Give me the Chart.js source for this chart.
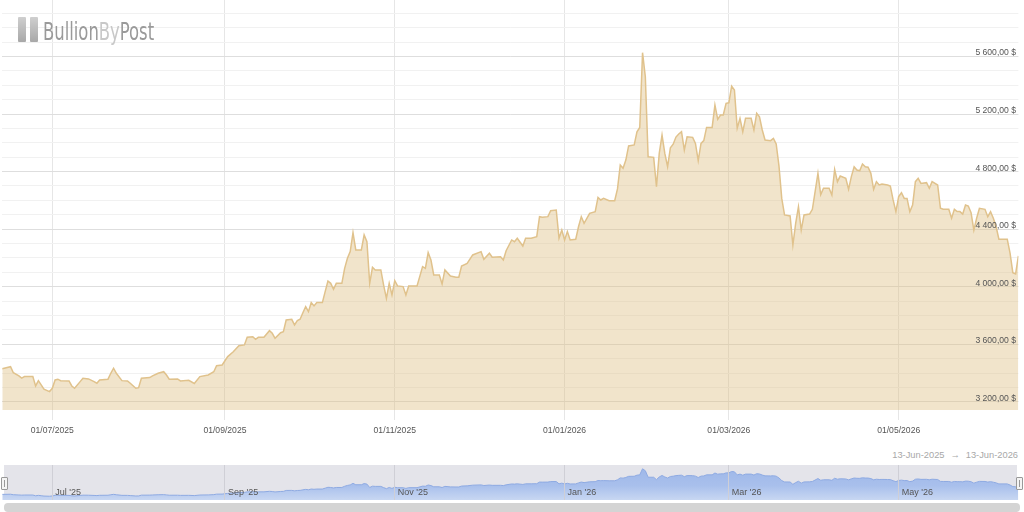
<!DOCTYPE html>
<html><head><meta charset="utf-8">
<script src="https://cdn.jsdelivr.net/npm/chart.js@4.4.1/dist/chart.umd.min.js"></script>
<style>
html,body{margin:0;padding:0;background:#fff;width:1024px;height:512px;overflow:hidden;font-family:"Liberation Sans",Arial,sans-serif;}
#main{position:absolute;left:0;top:0;}
#navbg{position:absolute;left:4px;top:465px;width:1013px;height:35px;background:#e4e4ea;}
#nav{position:absolute;left:0;top:465px;}
.bar{position:absolute;top:17px;width:8px;height:25px;background:linear-gradient(#cfcfcf,#a8a8a8);border-radius:1px;}
#logotext{position:absolute;left:43px;top:20px;font-family:"Liberation Sans Narrow","DejaVu Sans Condensed",sans-serif;font-size:24px;line-height:24px;white-space:nowrap;transform-origin:0 0;}
#range{position:absolute;right:6px;top:450px;font-size:9.3px;line-height:11px;color:#a8a8a8;white-space:nowrap;}
#range .arr{margin:0 6px 0 6px;}
.handle{position:absolute;top:477px;width:5px;height:11px;background:#f4f4f4;border:1px solid #999;border-radius:1px;}
.handle i{position:absolute;left:2px;top:2px;width:1px;height:7px;background:#999;}
#scroll{position:absolute;left:4px;top:503px;width:1016px;height:9px;background:#d4d4d4;border-radius:4px;}
</style>
</head><body>
<canvas id="main" width="1024" height="440"></canvas>
<div id="navbg"></div>
<canvas id="nav" width="1024" height="35"></canvas>
<div class="bar" style="left:18px"></div>
<div class="bar" style="left:30px"></div>
<div id="logotext"><span style="color:#9a9a9a">Bullion</span><span style="color:#c8c8c8">By</span><span style="color:#9a9a9a">Post</span></div>
<div id="range"><span id="r1"></span><span class="arr">→</span><span id="r2"></span></div>
<div class="handle" style="left:1px"><i></i></div>
<div class="handle" style="left:1016px"><i></i></div>
<div id="scroll"></div>
<script>
const dates = [
'2025-06-13','2025-06-16','2025-06-17','2025-06-19','2025-06-20','2025-06-21','2025-06-24','2025-06-25','2025-06-26','2025-06-27','2025-06-28','2025-06-30',
'2025-07-01','2025-07-02','2025-07-03','2025-07-04','2025-07-07','2025-07-08','2025-07-09','2025-07-11','2025-07-12','2025-07-14','2025-07-16','2025-07-17','2025-07-18','2025-07-21','2025-07-22','2025-07-23','2025-07-24','2025-07-26','2025-07-28','2025-07-29','2025-07-31',
'2025-08-01','2025-08-02','2025-08-05','2025-08-06','2025-08-08','2025-08-10','2025-08-11','2025-08-12','2025-08-15','2025-08-16','2025-08-19','2025-08-21','2025-08-23','2025-08-26','2025-08-28','2025-08-29','2025-08-31',
'2025-09-02','2025-09-04','2025-09-06','2025-09-08','2025-09-09','2025-09-11','2025-09-12','2025-09-13','2025-09-15','2025-09-17','2025-09-18','2025-09-19','2025-09-21','2025-09-22','2025-09-23','2025-09-25','2025-09-26','2025-09-27','2025-09-28','2025-09-29','2025-09-30',
'2025-10-01','2025-10-02','2025-10-03','2025-10-04','2025-10-06','2025-10-07','2025-10-08','2025-10-09','2025-10-10','2025-10-11','2025-10-13','2025-10-14','2025-10-15','2025-10-16','2025-10-17','2025-10-18','2025-10-20','2025-10-21','2025-10-22','2025-10-23','2025-10-24','2025-10-25','2025-10-27','2025-10-28','2025-10-29','2025-10-30','2025-10-31',
'2025-11-01','2025-11-02','2025-11-04','2025-11-05','2025-11-06','2025-11-09','2025-11-11','2025-11-12','2025-11-13','2025-11-14','2025-11-15','2025-11-17','2025-11-18','2025-11-19','2025-11-21','2025-11-23','2025-11-24','2025-11-25','2025-11-27','2025-11-29',
'2025-12-02','2025-12-03','2025-12-05','2025-12-06','2025-12-09','2025-12-10','2025-12-11','2025-12-13','2025-12-14','2025-12-15','2025-12-17','2025-12-18','2025-12-20','2025-12-22','2025-12-23','2025-12-24','2025-12-26','2025-12-27','2025-12-29','2025-12-30','2025-12-31',
'2026-01-01','2026-01-02','2026-01-03','2026-01-05','2026-01-06','2026-01-07','2026-01-08','2026-01-10','2026-01-12','2026-01-13','2026-01-14','2026-01-15','2026-01-17','2026-01-19','2026-01-20','2026-01-21','2026-01-22','2026-01-23','2026-01-24','2026-01-26','2026-01-27','2026-01-28','2026-01-29','2026-01-30','2026-01-31',
'2026-02-02','2026-02-03','2026-02-04','2026-02-05','2026-02-06','2026-02-07','2026-02-08','2026-02-09','2026-02-10','2026-02-11','2026-02-12','2026-02-13','2026-02-14','2026-02-16','2026-02-17','2026-02-18','2026-02-19','2026-02-20','2026-02-21','2026-02-23','2026-02-24','2026-02-25','2026-02-26','2026-02-27','2026-02-28',
'2026-03-01','2026-03-02','2026-03-03','2026-03-04','2026-03-05','2026-03-06','2026-03-07','2026-03-09','2026-03-10','2026-03-11','2026-03-12','2026-03-13','2026-03-14','2026-03-16','2026-03-17','2026-03-18','2026-03-19','2026-03-20','2026-03-21','2026-03-23','2026-03-24','2026-03-25','2026-03-26','2026-03-27','2026-03-28','2026-03-30','2026-03-31',
'2026-04-02','2026-04-03','2026-04-04','2026-04-06','2026-04-07','2026-04-08','2026-04-09','2026-04-10','2026-04-12','2026-04-13','2026-04-14','2026-04-15','2026-04-16','2026-04-17','2026-04-18','2026-04-19','2026-04-20','2026-04-21','2026-04-22','2026-04-23','2026-04-24','2026-04-25','2026-04-27','2026-04-28','2026-04-29','2026-04-30',
'2026-05-01','2026-05-02','2026-05-03','2026-05-04','2026-05-05','2026-05-06','2026-05-07','2026-05-08','2026-05-09','2026-05-11','2026-05-12','2026-05-13','2026-05-15','2026-05-16','2026-05-17','2026-05-19','2026-05-20','2026-05-21','2026-05-22','2026-05-23','2026-05-24','2026-05-25','2026-05-26','2026-05-27','2026-05-28','2026-05-29','2026-05-30',
'2026-06-01','2026-06-02','2026-06-03','2026-06-04','2026-06-05','2026-06-06','2026-06-09','2026-06-10','2026-06-11','2026-06-12','2026-06-13'
];
const prices = [
3430,3445,3403,3381,3365,3376,3376,3311,3348,3318,3288,3272,
3295,3353,3358,3348,3346,3311,3295,3341,3365,3360,3341,3330,3353,3358,3399,3434,3399,3348,3346,3330,3295,
3299,3365,3369,3381,3399,3410,3387,3358,3360,3346,3350,3328,3376,3387,3410,3452,3457,
3515,3549,3591,3596,3649,3653,3635,3649,3649,3695,3677,3642,3681,3688,3769,3774,3735,3765,3774,3820,3862,
3827,3890,3867,3890,3890,3966,4040,4024,3983,4024,4024,4128,4198,4244,4376,4256,4256,4360,4313,4024,4135,4117,4117,4012,3920,4024,3943,
4042,4006,4001,3943,4006,4006,4140,4128,4237,4186,4082,4082,4019,4117,4075,4066,4066,4144,4163,4221,
4244,4191,4233,4205,4209,4186,4250,4325,4313,4337,4283,4337,4337,4348,4487,4483,4487,4528,4533,4337,4394,
4325,4383,4325,4330,4417,4487,4441,4510,4522,4621,4603,4614,4598,4598,4680,4846,4823,4880,4978,4985,5077,5107,5626,5459,4903,
4899,4695,4926,5054,4926,4834,4965,4990,5040,5061,5077,4950,5042,5038,4996,4876,4996,5015,5107,5107,5262,5163,5193,5193,5274,
5278,5394,5367,5101,5170,5077,5170,5170,5089,5205,5181,5089,5019,5015,5031,4992,4840,4614,4499,4492,4290,4441,4556,4394,4499,4505,4538,
4788,4640,4684,4684,4637,4815,4730,4769,4753,4677,4765,4834,4811,4806,4853,4834,4830,4788,4677,4730,4707,4714,4707,4700,4603,4522,
4626,4653,4614,4614,4522,4568,4730,4753,4718,4723,4684,4730,4707,4545,4538,4538,4476,4538,4522,4522,4505,4568,4561,4515,4394,4476,4545,
4538,4487,4522,4476,4417,4330,4330,4233,4098,4089,4215
];
const xTickDates = ['2025-07-01','2025-09-01','2025-11-01','2026-01-01','2026-03-01','2026-05-01'];
const xTickLabels = ['01/07/2025','01/09/2025','01/11/2025','01/01/2026','01/03/2026','01/05/2026'];
const navTickLabels = ["Jul '25","Sep '25","Nov '25","Jan '26","Mar '26","May '26"];
const yTickValues = [3200,3600,4000,4400,4800,5200,5600];
const rangeDates = ['2025-06-13','2026-06-13'];
const rangeLabels = ['13-Jun-2025','13-Jun-2026'];

document.getElementById('r1').textContent = rangeLabels[0];
document.getElementById('r2').textContent = rangeLabels[1];
const lt = document.getElementById('logotext');
lt.style.transform = 'scaleX(' + (111 / lt.offsetWidth) + ')';

const toMs = s => Date.parse(s + 'T00:00:00Z');
const points = dates.map((d, i) => ({x: toMs(d), y: prices[i]}));
const FONT = '"Liberation Sans", Arial, sans-serif';
const fmtPrice = v => Math.floor(v / 1000) + ' ' + String(v % 1000).padStart(3, '0') + ',00 $';

const yLabelPlugin = {
  id: 'yLabels',
  afterDatasetsDraw(chart) {
    const {ctx, chartArea, scales} = chart;
    ctx.save();
    ctx.font = '8.6px ' + FONT;
    ctx.fillStyle = '#555';
    ctx.textAlign = 'right';
    ctx.textBaseline = 'alphabetic';
    yTickValues.forEach(v => {
      const py = scales.y.getPixelForValue(v);
      ctx.fillText(fmtPrice(v), chartArea.right - 2.4, py - 1);
    });
    ctx.restore();
  }
};

new Chart(document.getElementById('main'), {
  type: 'line',
  data: {datasets: [{
    data: points, borderColor: '#e0c28c', borderWidth: 1.5,
    backgroundColor: 'rgba(222,190,130,0.42)', fill: 'start',
    pointRadius: 0, tension: 0
  }]},
  options: {
    responsive: false, animation: false, events: [],
    layout: {padding: {left: 2.2, right: 5.6, top: 0, bottom: 0}},
    plugins: {legend: {display: false}, tooltip: {enabled: false}},
    scales: {
      x: {
        type: 'linear', min: toMs(rangeDates[0]), max: toMs(rangeDates[1]),
        afterBuildTicks: s => { s.ticks = xTickDates.map(d => ({value: toMs(d)})); },
        afterFit: s => { s.height = 30; },
        ticks: {autoSkip: false, maxRotation: 0, minRotation: 0, padding: 5, color: '#555',
          font: {size: 8.6, family: FONT}, callback: (v, i) => xTickLabels[i]},
        grid: {color: '#e6e6e6', tickLength: 10, lineWidth: 1},
        border: {display: false}
      },
      y: {
        min: 3144, max: 5992,
        afterBuildTicks: s => { const t = []; for (let v = 3200; v <= 5900; v += 100) t.push({value: v}); s.ticks = t; },
        afterFit: s => { s.width = 0; },
        ticks: {display: false},
        grid: {drawTicks: false, lineWidth: 1, color: c => (c.tick && c.tick.value % 400 === 0) ? '#dedede' : '#f1f1f1'},
        border: {display: false}
      }
    }
  },
  plugins: [yLabelPlugin]
});

const navLabelPlugin = {
  id: 'navLabels',
  afterDatasetsDraw(chart) {
    const {ctx, scales} = chart;
    ctx.save();
    ctx.font = '9px ' + FONT;
    ctx.fillStyle = '#555';
    ctx.textAlign = 'left';
    ctx.textBaseline = 'middle';
    scales.x.ticks.forEach((t, i) => {
      ctx.fillText(navTickLabels[i], scales.x.getPixelForValue(t.value) + 3, 28);
    });
    ctx.restore();
  }
};

new Chart(document.getElementById('nav'), {
  type: 'line',
  data: {datasets: [{
    data: points, borderColor: '#8eaae2', borderWidth: 1, fill: 'start',
    pointRadius: 0, tension: 0,
    backgroundColor: c => {
      const ch = c.chart; const a = ch.chartArea;
      if (!a) return '#a8bfea';
      const g = ch.ctx.createLinearGradient(0, a.top, 0, a.bottom);
      g.addColorStop(0, '#9cb6e8'); g.addColorStop(0.6, '#a9c0ec'); g.addColorStop(1, '#c8d7f2');
      return g;
    }
  }]},
  options: {
    responsive: false, animation: false, events: [],
    layout: {padding: {left: 2.2, right: 5.6, top: 0, bottom: 0}},
    plugins: {legend: {display: false}, tooltip: {enabled: false}},
    scales: {
      x: {
        type: 'linear', min: toMs(rangeDates[0]), max: toMs(rangeDates[1]),
        afterBuildTicks: s => { s.ticks = xTickDates.map(d => ({value: toMs(d)})); },
        afterFit: s => { s.height = 0; },
        ticks: {display: false},
        grid: {color: '#cfcfd6', drawTicks: false, lineWidth: 1, z: 1},
        border: {display: false}
      },
      y: {display: false, min: 2950, max: 5950}
    }
  },
  plugins: [navLabelPlugin]
});
</script>
</body></html>
